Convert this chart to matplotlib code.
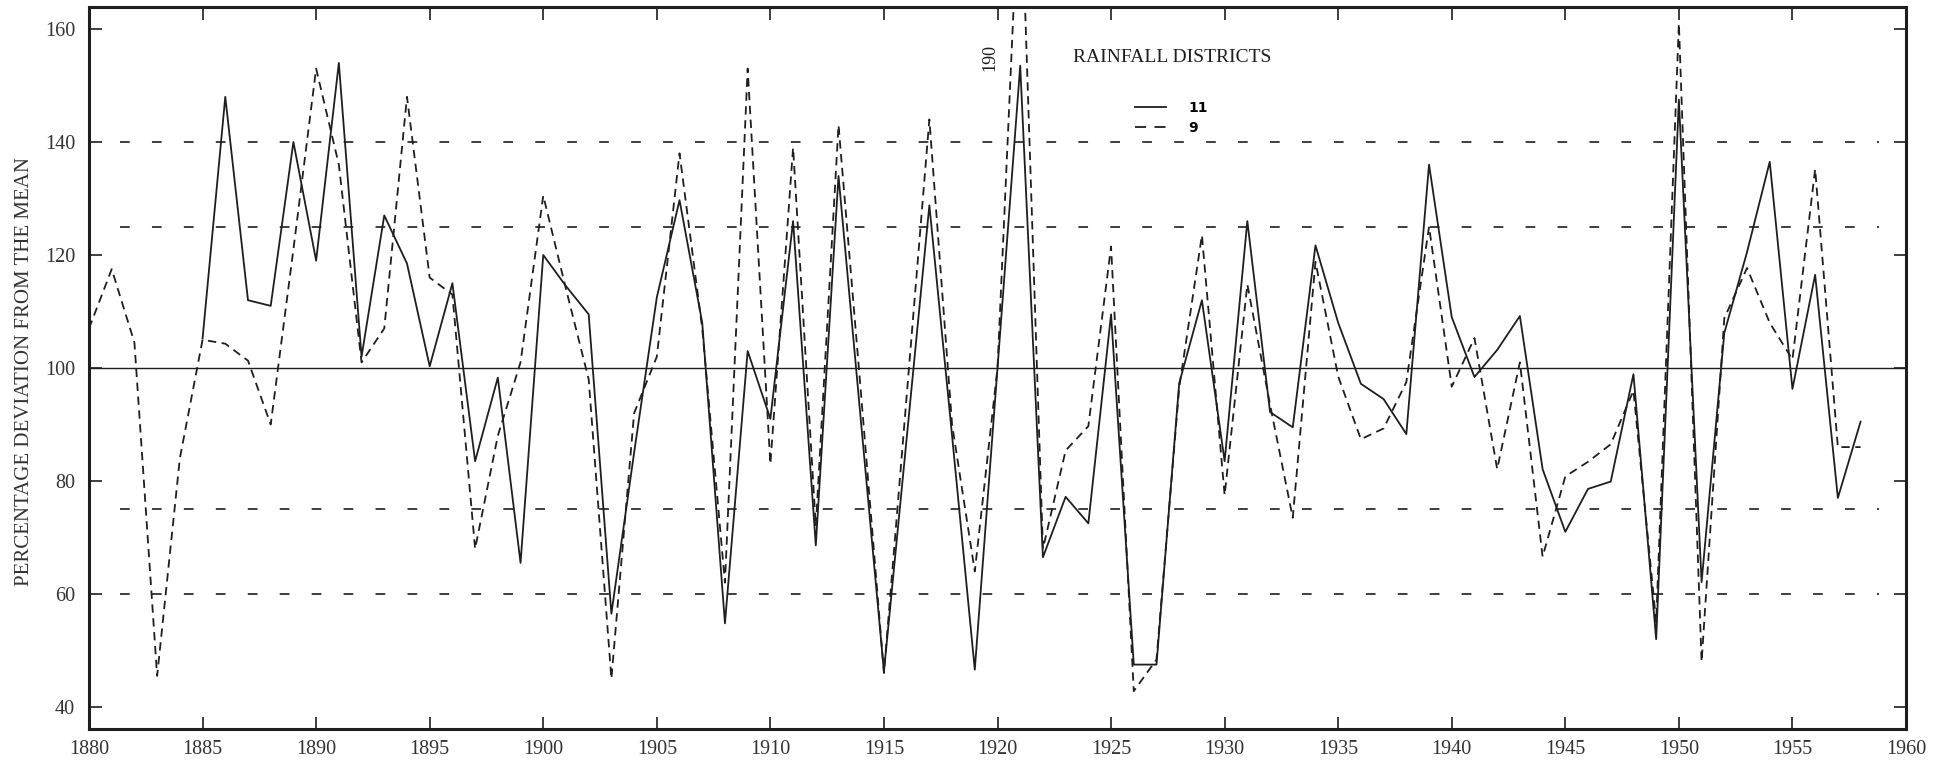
import numpy as np
import matplotlib
matplotlib.use("Agg")
import matplotlib.pyplot as plt
from matplotlib.lines import Line2D

# percentage deviation from the mean
years_9 = np.arange(1880, 1959)
district_9 = [
    107, 117.5, 104.5, 45.5, 84, 105, 104.3, 101.3, 90, 121,
    153, 136, 101, 107, 148, 116, 113, 68, 88, 101,
    130.5, 114, 98, 45, 92, 102, 138, 107, 62, 153,
    83, 139, 72, 143, 95, 46, 95, 144, 90, 64,
    100, 190, 68, 85.4, 89.7, 121.5, 42.8, 48.4, 96.5, 123.5,
    77.5, 114.8, 93.5, 73.5, 118.8, 98.5, 87.4, 89.3, 97.5, 125,
    96.7, 105.3, 82.1, 101, 66.6, 80.8, 83.4, 86.5, 96, 55,
    161, 48, 108.8, 117.7, 108, 101.5, 135.2, 86, 86,
]

years_11 = np.arange(1885, 1959)
district_11 = [
    105.2, 148, 112, 111, 140, 119, 154, 102, 127, 118.5,
    100.3, 115, 83.5, 98.3, 65.5, 120, 114.5, 109.5, 56.5, 85,
    112.5, 129.7, 108, 54.8, 103, 91, 126, 68.6, 134, 90,
    46.3, 87.5, 128.8, 88, 46.6, 100, 153.5, 66.5, 77.2, 72.5,
    109.5, 47.5, 47.5, 97.3, 112, 83.5, 126, 92.2, 89.5, 121.7,
    108, 97.2, 94.5, 88.3, 136, 109, 98.4, 103.2, 109.2, 82.1,
    71, 78.6, 79.9, 98.9, 52, 147.5, 62.1, 106.2, 120.5, 136.5,
    96.3, 116.5, 77, 90.5,
]

ref_levels = [140, 125, 75, 60]
x_ticks = np.arange(1880, 1961, 5)
y_ticks = np.arange(40, 161, 20)

plt.rcParams['font.family'] = ['Liberation Serif', 'DejaVu Serif']
plt.rcParams['lines.scale_dashes'] = False

ink = '#1e1e1e'
fig = plt.figure(figsize=(19.47, 7.62), dpi=100)
ax = fig.add_axes([89 / 1947, 1 - 729 / 762, 1817 / 1947, 722 / 762])

ax.axhline(100, color=ink, lw=1.0, zorder=1)
for lev in ref_levels:
    ax.axhline(lev, xmin=0.017, xmax=0.985, color=ink, lw=1.2,
               linestyle=(0, (7, 16)), zorder=1)

ax.plot(years_11, district_11, color=ink, lw=1.3, zorder=3)
ax.plot(years_9, district_9, color=ink, lw=1.3, linestyle=(0, (6, 4)), zorder=2)

ax.set_xlim(1880, 1960)
ax.set_ylim(36.1, 163.9)
ax.set_xticks(x_ticks)
ax.set_yticks(y_ticks)
ax.tick_params(direction='in', length=9, width=1.2, colors=ink,
               labelsize=14.5, top=True, right=True, pad=10)
ax.tick_params(axis='x', pad=8)
for lbl in ax.get_xticklabels() + ax.get_yticklabels():
    lbl.set_color('#333333')
for sp in ax.spines.values():
    sp.set_linewidth(2.2)
    sp.set_color(ink)

fig.text(25 / 1947, 0.512, 'PERCENTAGE DEVIATION FROM THE MEAN', fontsize=15,
         color='#333333', rotation=90, ha='center', va='center')

ax.text(1920.05, 157.3, '190', rotation=90, fontsize=13, color=ink,
        ha='right', va='top')
fig.text(1172 / 1947, 1 - 57 / 762, 'RAINFALL DISTRICTS', fontsize=14,
         color=ink, ha='center', va='center')

handles = [Line2D([], [], color=ink, lw=1.3),
           Line2D([], [], color=ink, lw=1.3, linestyle=(0, (8, 6)))]
leg = fig.legend(handles, ['11', '9'], loc='upper left',
                 bbox_to_anchor=(1122 / 1947, 1 - 88 / 762), frameon=False,
                 handlelength=2.3, handletextpad=1.6, labelspacing=0.45,
                 prop={'family': 'DejaVu Sans', 'weight': 'bold', 'size': 10})

fig.savefig('out.png', dpi=100)
